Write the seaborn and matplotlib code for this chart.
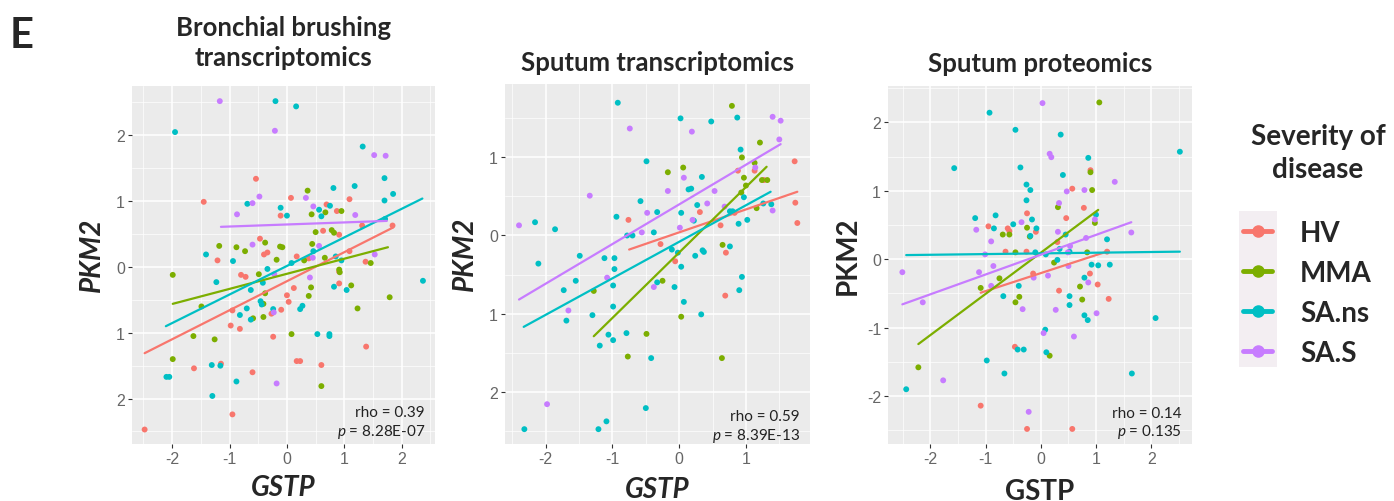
import matplotlib
matplotlib.use("Agg")
import matplotlib.pyplot as plt
from matplotlib.lines import Line2D
from matplotlib.patches import Rectangle
from matplotlib.ticker import MultipleLocator
import seaborn as sns
import pandas as pd

# ---------------- data ----------------
groups = ["HV", "MMA", "SA.ns", "SA.S"]
colors = ["#F8766D", "#7CAE00", "#00BFC4", "#C77CFF"]

# Panel 1: Bronchial brushing transcriptomics
bb_hv_x = [-0.54, -1.45, 0.07, 1.09, 0.69, 0.87, -0.11, 0.63, -0.47, -0.40, -0.34, -1.21, 0.91, 1.84, 1.31, 1.09, 0.17, 0.38, -0.80, -0.72, 0.91, 0.91, 1.37, 0.12, 0.0, 0.03, -0.10, -0.27, -0.95, -0.82, -0.98, -0.24, 0.60, 0.17, 0.23, -0.60, -1.15, -1.62, 1.38, -0.95, -2.48]
bb_hv_y = [1.34, 0.99, 1.05, 1.03, 0.95, 0.85, 0.78, 0.55, 0.43, 0.19, 0.22, 0.10, 0.49, 0.63, 0.63, 0.24, 0.16, 0.13, -0.12, -0.15, -0.07, -0.25, 0.08, -0.32, -0.43, -0.53, -0.65, -0.71, -0.66, -0.94, -0.89, -1.06, -1.49, -1.43, -1.43, -1.60, -1.47, -1.54, -1.21, -2.24, -2.47]
bb_mma_x = [0.36, 0.95, 0.67, 0.43, 0.50, 0.78, 0.82, -1.18, -0.88, -0.73, -0.38, -0.12, -0.08, 0.44, -0.18, 0.30, 0.66, -1.99, -0.49, -0.38, 0.91, 0.92, 1.12, 1.46, 0.42, 0.38, 1.79, 1.23, -1.49, -0.59, -0.41, -0.41, 0.08, -1.63, -1.26, -1.99, 0.60]
bb_mma_y = [1.16, 0.85, 0.83, 0.80, 0.53, 0.56, 0.52, 0.32, 0.30, 0.24, 0.37, 0.31, 0.30, 0.35, 0.11, 0.10, 0.14, -0.12, -0.11, -0.40, -0.04, -0.08, -0.28, 0.06, -0.31, -0.44, -0.46, -0.63, -0.60, -0.78, -0.76, -0.56, -1.02, -1.05, -1.10, -1.40, -1.81]
bb_ns_x = [-1.95, -0.20, 0.16, 1.32, 1.70, 1.85, 1.70, 1.18, 0.81, -0.69, -0.11, 0.0, 0.56, 0.60, 0.75, 1.71, -1.41, -0.94, -1.23, -0.34, -0.42, -0.63, 0.46, 0.85, 0.82, 1.04, 0.95, 2.37, -0.82, -0.70, -0.63, -0.46, -0.44, -0.24, 0.23, 0.27, 0.53, 0.74, 0.74, -1.31, -1.16, -2.10, -2.05, -1.30, -0.88, 0.08]
bb_ns_y = [2.05, 2.52, 2.44, 1.83, 1.35, 1.11, 1.01, 1.23, 1.20, 0.96, 0.90, 0.78, 0.87, 0.77, 0.93, 0.73, 0.19, 0.09, -0.23, -0.03, -0.24, -0.35, 0.24, 0.16, -0.30, -0.35, 0.10, -0.21, -0.73, -0.63, -0.80, -0.52, -0.57, -0.64, -0.64, -0.59, -1.02, -1.02, -1.05, -1.49, -1.50, -1.67, -1.67, -1.96, -1.74, 0.06]
bb_s_x = [-1.17, -0.21, 1.52, 1.72, -0.48, -0.60, -0.87, 0.33, 0.46, 1.19, -0.60, 0.56, -0.22, 0.40, 1.53, -0.23, -0.18, 0.45]
bb_s_y = [2.52, 2.07, 1.70, 1.69, 1.07, 0.97, 0.80, 1.05, 0.92, 0.79, 0.34, 0.32, -0.11, -0.16, 0.19, -0.69, -1.77, 0.14]
bb_fit_x0 = [-2.48, -1.99, -2.11, -1.15]
bb_fit_x1 = [1.85, 1.76, 2.36, 1.74]
bb_fit_y0 = [-1.31, -0.56, -0.90, 0.61]
bb_fit_y1 = [0.60, 0.30, 1.04, 0.70]

# Panel 2: Sputum transcriptomics
st_hv_x = [1.73, 0.88, 1.13, 1.27, 1.74, 1.77, -0.76, 0.31, 0.62, 0.83, -0.28, -0.06, 0.70, 0.69]
st_hv_y = [0.95, 0.83, 0.83, 0.71, 0.42, 0.16, 0.20, 0.30, 0.13, 0.29, -0.11, -0.33, -0.22, -0.77]
st_mma_x = [0.79, 1.21, 0.94, 1.13, 0.06, -0.17, 0.97, 1.24, 1.32, 1.00, 0.93, 1.16, 0.65, -0.25, -1.28, 0.03, -0.49, -0.77, 0.64]
st_mma_y = [1.66, 1.19, 1.00, 0.93, 0.87, 0.81, 0.74, 0.71, 0.71, 0.64, 0.55, 0.35, -0.12, -0.58, -0.71, -1.04, -1.26, -1.55, -1.57]
st_ns_x = [-0.92, 0.02, 0.48, 0.87, 0.92, -0.49, 0.34, 0.14, 0.18, 0.27, 0.22, 0.97, 1.26, 1.38, 1.02, 0.89, 0.76, 0.80, -0.58, -0.33, 0.03, -0.94, -2.16, -1.86, -0.78, -0.70, -0.38, -2.11, -1.49, -1.12, -0.97, -0.97, -0.11, -0.02, 0.03, 0.24, 0.35, 0.37, 0.76, -1.55, -1.73, -0.99, -0.33, -0.07, 0.94, 0.90, 0.07, -0.99, -1.30, 0.33, -1.69, -0.79, -1.06, -0.99, -1.19, -0.42, -0.50, -1.09, -2.32, -1.21]
st_ns_y = [1.70, 1.50, 1.46, 1.51, 1.10, 0.95, 0.75, 0.59, 0.60, 0.39, 0.19, 0.49, 0.41, 0.40, 0.20, 0.15, 0.31, 0.31, 0.44, 0.30, 0.29, 0.24, 0.17, 0.08, 0.0, 0.0, 0.04, -0.36, -0.26, -0.29, -0.29, -0.43, -0.18, -0.22, -0.40, -0.26, -0.19, -0.21, -0.14, -0.58, -0.70, -0.64, -0.60, -0.66, -0.53, -0.70, -0.85, -0.91, -1.02, -1.01, -1.09, -1.25, -1.27, -1.34, -1.41, -1.57, -2.21, -2.38, -2.48, -2.48]
st_s_x = [-0.74, 0.19, 1.40, 1.52, 1.50, 1.14, 0.07, -0.17, 0.53, -1.34, 0.42, -0.48, 0.68, 1.40, 0.20, 0.01, -0.56, -2.40, -1.08, -0.38, -1.66, -1.98]
st_s_y = [1.37, 1.33, 1.52, 1.47, 1.23, 0.87, 0.74, 0.57, 0.57, 0.51, 0.41, 0.29, 0.37, 0.32, 0.20, 0.10, 0.04, 0.13, -0.54, -0.66, -0.96, -2.16]
st_fit_x0 = [-0.75, -1.28, -2.33, -2.40]
st_fit_x1 = [1.77, 1.31, 1.37, 1.52]
st_fit_y0 = [-0.18, -1.29, -1.17, -0.82]
st_fit_y1 = [0.56, 0.88, 0.56, 1.17]

# Panel 3: Sputum proteomics
sp_hv_x = [0.90, 0.57, 0.78, -0.25, 0.46, -0.95, -0.60, -0.57, -0.09, -0.64, -0.26, 0.30, 1.20, -0.14, 0.89, 1.03, 0.33, 1.23, -0.47, -1.09, -0.25, 0.57]
sp_hv_y = [1.30, 1.03, 0.75, 0.67, 0.60, 0.48, 0.45, 0.41, 0.40, 0.11, 0.11, 0.25, 0.11, -0.21, -0.21, -0.37, -0.46, -0.58, -1.28, -2.14, -2.48, -2.48]
sp_mma_x = [1.06, 0.90, 0.93, 0.31, 0.98, -0.69, -0.57, -0.25, -0.20, -0.46, 0.84, 0.24, -0.75, -1.09, -0.39, -0.46, 0.71, 0.75, 0.16, -2.22]
sp_mma_y = [2.29, 1.27, 1.01, 0.76, 0.53, 0.36, 0.36, 0.46, 0.33, 0.10, 0.10, -0.05, -0.28, -0.42, -0.55, -0.63, -0.40, -0.59, -1.41, -1.58]
sp_ns_x = [-0.93, -0.46, 0.36, -1.57, -0.37, 0.86, 0.40, -0.26, -0.19, -0.26, -1.19, -0.82, -0.50, -0.16, -0.85, -0.08, 0.45, 1.00, 1.20, -0.19, -0.10, 0.09, 0.34, 0.52, 0.30, 0.92, 1.04, 1.25, -0.40, -0.68, 0.52, 0.52, 0.79, 0.79, 0.85, 2.08, 2.52, 0.08, 0.10, -0.42, -0.31, -0.98, -0.66, 1.65, -2.44]
sp_ns_y = [2.14, 1.89, 1.82, 1.33, 1.34, 1.48, 1.23, 1.09, 1.01, 0.86, 0.60, 0.64, 0.51, 0.58, 0.45, 0.45, 0.36, 0.65, 0.29, 0.34, 0.10, 0.07, 0.15, 0.11, -0.01, -0.08, -0.09, -0.08, -0.39, -0.54, -0.54, -0.67, -0.27, -0.82, -0.89, -0.86, 1.57, -1.03, -1.36, -1.32, -1.32, -1.48, -1.67, -1.67, -1.90]
sp_s_x = [0.03, 0.16, 0.19, 1.34, 0.47, 0.79, 0.33, -0.35, 0.98, -1.17, -0.90, 0.31, 0.82, 1.64, -1.01, 0.53, 0.49, -1.12, -0.86, -0.13, 0.13, 0.50, -2.51, -0.90, -0.33, 0.27, 0.86, 1.01, -2.14, 0.05, 0.60, -1.77, -0.22]
sp_s_y = [2.28, 1.54, 1.49, 1.13, 0.99, 1.01, 0.82, 0.54, 0.58, 0.43, 0.26, 0.40, 0.31, 0.39, 0.07, 0.19, 0.10, -0.19, -0.10, -0.27, -0.24, -0.10, -0.19, -0.39, -0.73, -0.74, -0.34, -0.79, -0.63, -1.08, -1.13, -1.77, -2.23]
sp_fit_x0 = [-1.09, -2.22, -2.44, -2.51]
sp_fit_x1 = [1.23, 1.04, 2.52, 1.64]
sp_fit_y0 = [-0.49, -1.24, 0.06, -0.66]
sp_fit_y1 = [0.12, 0.72, 0.11, 0.54]

titles = ["Bronchial brushing\ntranscriptomics", "Sputum transcriptomics", "Sputum proteomics"]
rho_texts = ["rho = 0.39", "rho = 0.59", "rho = 0.14"]
p_texts = ["8.28E-07", "8.39E-13", "0.135"]
x_ticks = [[-2, -1, 0, 1, 2], [-2, -1, 0, 1], [-2, -1, 0, 1, 2]]
x_ticklabels = [["-2", "-1", "0", "1", "2"], ["-2", "-1", "0", "1"], ["-2", "-1", "0", "1", "2"]]
y_ticks = [[-2, -1, 0, 1, 2], [-2, -1, 0, 1], [-2, -1, 0, 1, 2]]
y_ticklabels = [["2", "1", "0", "1", "2"], ["2", "1", "0", "1"], ["-2", "-1", "0", "1", "2"]]
xlims = [(-2.70, 2.58), (-2.61, 1.96), (-2.77, 2.74)]
ylims = [(-2.69, 2.75), (-2.67, 1.94), (-2.70, 2.53)]
label_italic = [True, True, False]

# ---------------- styling ----------------
sns.set_theme(style="darkgrid")
plt.rcParams["font.family"] = ["Lato", "DejaVu Sans"]
plt.rcParams["mathtext.fontset"] = "custom"
plt.rcParams["mathtext.it"] = "Lato:italic"
plt.rcParams["mathtext.rm"] = "Lato"

fig = plt.figure(figsize=(13.94, 5.02), dpi=100)
W, H = 1394, 502
boxes = [(132, 87, 435, 445), (505, 85, 810, 445), (888, 87, 1192, 445)]
title_pads = [15, 10, 11]
xlabel_y = [-0.12, -0.125, -0.13]
rho_y = [0.09, 0.078, 0.087]
p_y = [0.037, 0.025, 0.036]

panels = [
    (bb_hv_x, bb_hv_y, bb_mma_x, bb_mma_y, bb_ns_x, bb_ns_y, bb_s_x, bb_s_y, bb_fit_x0, bb_fit_x1, bb_fit_y0, bb_fit_y1),
    (st_hv_x, st_hv_y, st_mma_x, st_mma_y, st_ns_x, st_ns_y, st_s_x, st_s_y, st_fit_x0, st_fit_x1, st_fit_y0, st_fit_y1),
    (sp_hv_x, sp_hv_y, sp_mma_x, sp_mma_y, sp_ns_x, sp_ns_y, sp_s_x, sp_s_y, sp_fit_x0, sp_fit_x1, sp_fit_y0, sp_fit_y1),
]

pal = dict(zip(groups, colors))

for i, (pdata, box) in enumerate(zip(panels, boxes)):
    l, t, r, b = box
    ax = fig.add_axes([l / W, 1 - b / H, (r - l) / W, (b - t) / H])
    ax.set_facecolor("#EBEBEB")
    xs = [pdata[0], pdata[2], pdata[4], pdata[6]]
    ys = [pdata[1], pdata[3], pdata[5], pdata[7]]
    rows = []
    for g, xv, yv in zip(groups, xs, ys):
        for a, c in zip(xv, yv):
            rows.append((g, a, c))
    df = pd.DataFrame(rows, columns=["group", "x", "y"])
    fx0, fx1, fy0, fy1 = pdata[8], pdata[9], pdata[10], pdata[11]
    frows = []
    for g, a0, a1, c0, c1 in zip(groups, fx0, fx1, fy0, fy1):
        frows.append((g, a0, c0))
        frows.append((g, a1, c1))
    fdf = pd.DataFrame(frows, columns=["group", "x", "y"])

    sns.scatterplot(data=df, x="x", y="y", hue="group", hue_order=groups, palette=pal,
                    s=18, linewidth=0, legend=False, ax=ax, zorder=3)
    sns.lineplot(data=fdf, x="x", y="y", hue="group", hue_order=groups, palette=pal,
                 estimator=None, sort=True, linewidth=1.6, legend=False, ax=ax, zorder=4)

    ax.set_xlim(*xlims[i])
    ax.set_ylim(*ylims[i])
    ax.set_xticks(x_ticks[i])
    ax.set_xticklabels(x_ticklabels[i])
    ax.set_yticks(y_ticks[i])
    ax.set_yticklabels(y_ticklabels[i])
    ax.xaxis.set_minor_locator(MultipleLocator(0.5))
    ax.yaxis.set_minor_locator(MultipleLocator(0.5))
    ax.grid(which="major", color="white", linewidth=1.1)
    ax.grid(which="minor", color="white", linewidth=0.5)
    ax.set_axisbelow(True)
    for s in ax.spines.values():
        s.set_visible(False)
    ax.tick_params(axis="both", which="major", length=3, width=0.8, color="#333333",
                   labelsize=11.5, labelcolor="#666666", pad=2, bottom=True, left=True)
    ax.tick_params(axis="both", which="minor", length=0)
    for lab in ax.get_xticklabels() + ax.get_yticklabels():
        lab.set_family(["Liberation Sans", "DejaVu Sans"])

    style = "italic" if label_italic[i] else "normal"
    ax.set_xlabel("GSTP", fontsize=20, fontweight="bold", fontstyle=style)
    ax.set_ylabel("PKM2", fontsize=20, fontweight="bold", fontstyle=style)
    ax.xaxis.set_label_coords(0.5, xlabel_y[i])
    ax.xaxis.label.set_va("center")
    ax.yaxis.set_label_coords(-0.132, 0.53)
    ax.yaxis.label.set_va("center")
    ax.yaxis.label.set_ha("center")
    ax.set_title(titles[i], fontsize=18.5, fontweight="bold", pad=title_pads[i], linespacing=1.3)

    ax.text(0.967, rho_y[i], rho_texts[i], transform=ax.transAxes, ha="right", va="center",
            fontsize=11, color="#222222")
    ax.text(0.967, p_y[i], "$p$ = " + p_texts[i], transform=ax.transAxes, ha="right", va="center",
            fontsize=11, color="#222222")

# panel letter
fig.text(10 / W, 1 - 48 / H, "E", fontsize=30, fontweight="bold", ha="left", va="baseline")

# legend
fig.text(1318 / W, 1 - 153.5 / H, "Severity of\ndisease", fontsize=20, fontweight="bold",
         ha="center", va="center", linespacing=1.33)
fig.patches.append(Rectangle((1239 / W, 1 - 368 / H), 38 / W, 156 / H, transform=fig.transFigure,
                             facecolor="#F3EEF2", edgecolor="none"))
handles = [Line2D([0], [0], color=c, lw=3.5, marker="o", markersize=8) for c in colors]
fig.legend(handles, groups, loc="upper left", bbox_to_anchor=(1243 / W, 1 - 221 / H),
           frameon=False, prop={"weight": "bold", "size": 20},
           handlelength=1.05, handletextpad=1.0, labelspacing=0.5, borderpad=0,
           borderaxespad=0)

fig.savefig("out.png", dpi=100)
